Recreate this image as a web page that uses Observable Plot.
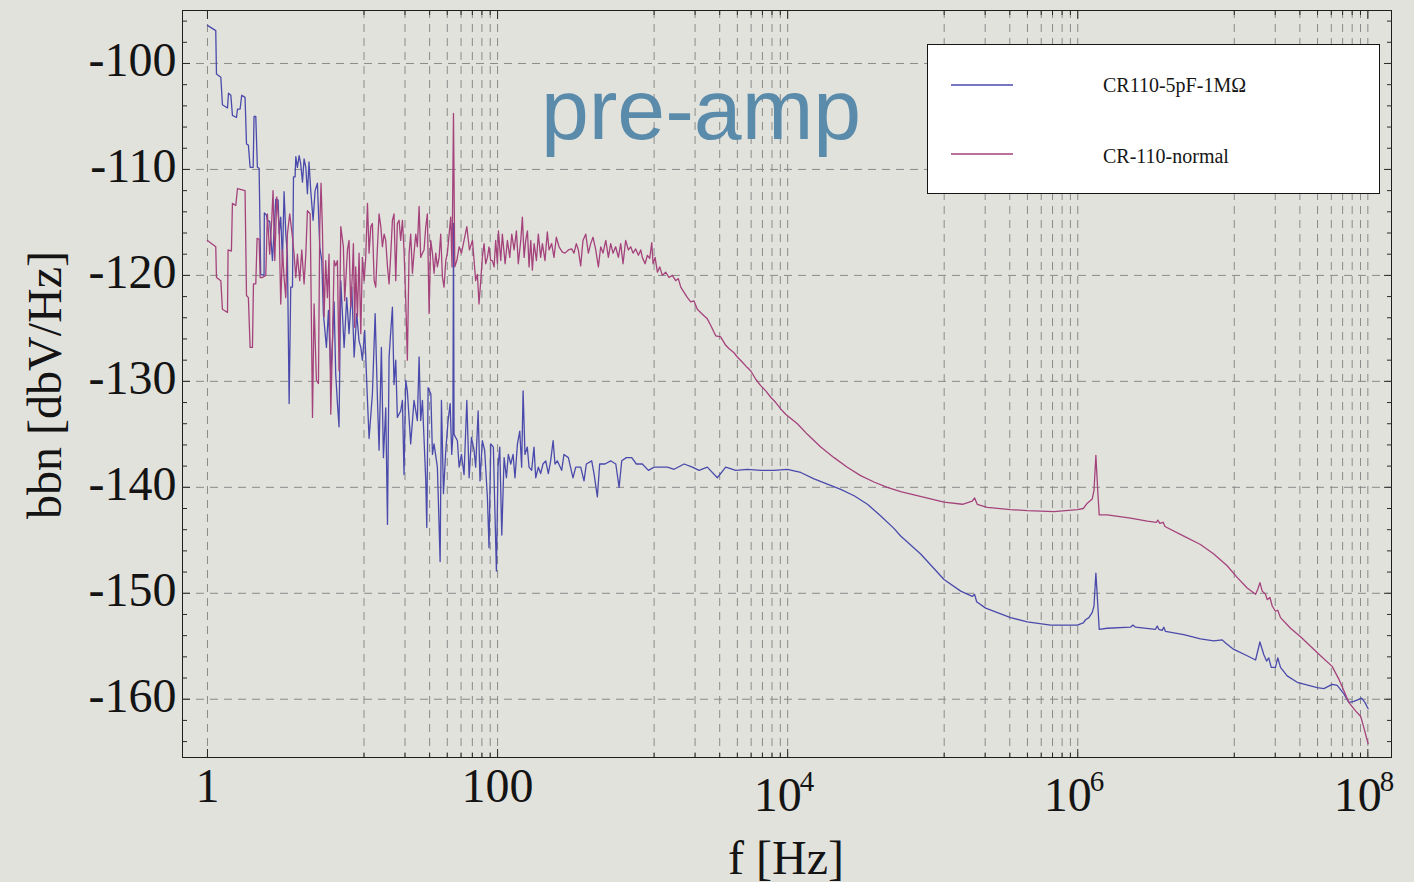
<!DOCTYPE html>
<html>
<head>
<meta charset="utf-8">
<script src="https://cdn.jsdelivr.net/npm/d3@7"></script>
<script src="https://cdn.jsdelivr.net/npm/@observablehq/plot@0.6"></script>
<style>
  html, body { margin: 0; padding: 0; background: #e2e2dc; }
  #wrap { position: relative; width: 1414px; height: 882px; overflow: hidden; }
  #legend { position: absolute; left: 927px; top: 44px; width: 453px; height: 150px; box-sizing: border-box;
            background: #ffffff; border: 1.5px solid #151515;
            font-family: "Liberation Serif", "Times New Roman", serif; font-size: 20px; color: #161616; }
  .sw { position: absolute; left: 23px; width: 62px; height: 6px; overflow: visible; }
  .lb { position: absolute; left: 175px; line-height: 20px; white-space: nowrap; }
</style>
</head>
<body>
<div id="wrap"></div>
<script>
// ---- data: [log10(f / Hz), bbn in dbV/Hz] ----
const blueReadings = [
[0,-96.4],[0.057,-96.9],[0.062,-101.0],[0.092,-101.3],[0.103,-103.9],[0.138,-104.2],[0.145,-102.8],[0.161,-103.0],[0.172,-104.9],[0.200,-105.1],[0.207,-104.3],[0.225,-104.3],[0.236,-103.0],[0.259,-103.2],[0.269,-107.6],[0.282,-107.7],[0.294,-109.8],[0.315,-109.8],[0.321,-105.0],[0.333,-105.0],[0.344,-109.8],[0.356,-109.9],[0.367,-119.9],[0.390,-120.0],[0.392,-114.1],[0.406,-114.3],[0.413,-114.8],[0.429,-114.9],
[0.448,-118.6],[0.471,-112.8],[0.487,-112.9],[0.494,-116.1],[0.505,-114.5],[0.517,-118.6],[0.528,-112.1],[0.540,-116.1],[0.551,-118.0],[0.563,-132.1],[0.574,-121.1],[0.586,-121.1],[0.593,-110.7],[0.604,-110.7],[0.609,-108.8],[0.620,-109.8],[0.632,-108.7],[0.643,-109.5],[0.655,-111.2],[0.666,-109.0],[0.678,-109.8],[0.689,-112.3],[0.700,-109.3],[0.712,-112.0],[0.728,-114.8],[0.742,-112.0],[0.758,-111.3],[0.774,-117.3],[0.788,-118.6],[0.799,-123.6],[0.820,-126.8],[0.834,-123.3],[0.850,-129.3],[0.862,-126.2],[0.873,-122.5],[0.884,-129.3],[0.896,-132.1],[0.907,-134.3],
[0.919,-120.5],[0.942,-126.8],[0.960,-122.1],[0.976,-125.5],[0.995,-121.1],[1.011,-127.7],[1.029,-123.6],[1.045,-126.2],[1.057,-126.8],[1.068,-128.0],[1.084,-125.2],[1.103,-131.8],[1.114,-135.4],[1.137,-131.2],[1.156,-123.6],[1.172,-131.8],[1.183,-136.5],[1.199,-126.8],[1.213,-137.2],[1.229,-132.5],[1.241,-143.5],[1.252,-127.7],[1.264,-125.2],[1.275,-123.0],[1.286,-130.3],[1.298,-128.0],[1.309,-133.4],[1.332,-132.8],[1.344,-131.8],[1.355,-138.8],[1.367,-129.9],[1.378,-130.9],[1.401,-135.9],[1.424,-131.8],[1.447,-133.7],[1.459,-127.7],[1.470,-133.7],[1.482,-131.8],[1.505,-139.4],[1.512,-143.8],[1.521,-130.6],[1.540,-131.2],[1.551,-136.9],[1.562,-135.9],[1.585,-138.1],[1.604,-147.0],[1.613,-131.8],[1.627,-140.6],[1.643,-136.5],[1.659,-133.7],[1.673,-132.1],[1.684,-136.9],[1.692,-135.0],[1.696,-115.1],[1.700,-135.0],[1.723,-135.6],[1.735,-138.1],[1.751,-136.9],[1.769,-138.8],[1.788,-131.8],[1.804,-139.1],[1.820,-135.3],[1.838,-136.5],[1.849,-138.1],[1.866,-132.8],[1.879,-139.4],[1.895,-135.6],[1.911,-136.5],[1.930,-141.0],[1.941,-145.7],[1.953,-135.9],[1.971,-136.2],[1.981,-141.9],[1.992,-147.9],[2.003,-138.1],
[2.015,-136.2],[2.029,-144.5],[2.045,-137.2],[2.061,-139.1],[2.074,-136.9],[2.091,-137.8],[2.107,-136.9],[2.120,-139.1],[2.137,-135.9],[2.153,-134.7],[2.166,-138.1],[2.176,-130.9],[2.189,-136.9],[2.205,-136.2],[2.217,-138.1],[2.235,-138.4],[2.251,-136.2],[2.263,-139.1],[2.281,-138.1],[2.297,-138.7],[2.313,-137.8],[2.332,-137.5],[2.350,-138.7],[2.366,-137.5],[2.383,-135.6],[2.396,-137.8],[2.412,-137.5],[2.442,-138.4],[2.458,-136.9],[2.488,-137.2],[2.520,-139.1],[2.539,-138.1],[2.573,-138.1],[2.596,-139.4],[2.612,-137.8],[2.649,-137.5],[2.665,-138.7],[2.688,-140.9],[2.704,-137.8],[2.741,-137.8],[2.780,-137.5],[2.815,-137.8],[2.838,-140.0],[2.856,-137.5],[2.888,-137.2],[2.925,-137.2],[2.957,-137.8],[2.998,-137.8],[3.040,-138.4],[3.079,-138.1],[3.125,-138.1],[3.171,-138.1],[3.217,-138.3],[3.286,-137.8],[3.343,-138.1],[3.389,-138.4],[3.446,-138.1],[3.515,-139.1],[3.573,-138.1],[3.642,-138.4],[3.722,-138.3],[3.814,-138.4],[3.906,-138.4],
[3.998,-138.3],[4.090,-138.6],[4.182,-139.2],[4.274,-139.7],[4.366,-140.2],[4.458,-140.8],[4.550,-141.6],[4.642,-142.7],[4.734,-143.9],
[4.779,-144.6],[4.917,-146.3],[5.078,-148.7],[5.193,-149.8],[5.273,-150.3],[5.289,-150.1],[5.303,-150.8],[5.365,-151.4],[5.537,-152.3],[5.652,-152.7],[5.813,-153.0],[5.997,-153.0],[6.038,-152.8],[6.054,-152.5],[6.077,-152.3],[6.100,-151.8],[6.112,-151.2],[6.125,-148.1],[6.139,-151.3],[6.148,-153.4],[6.203,-153.3],[6.364,-153.2],[6.380,-153.0],[6.398,-153.2],[6.536,-153.4],[6.548,-153.1],[6.559,-153.4],[6.582,-153.5],[6.593,-153.2],[6.605,-153.6],[6.731,-153.9],[6.846,-154.3],[6.938,-154.5],[6.996,-154.4],[7.019,-154.7],[7.076,-155.3],[7.168,-155.9],[7.226,-156.3],[7.256,-154.6],[7.283,-155.8],[7.302,-156.4],[7.317,-156.1],[7.334,-157.0],[7.363,-157.0],[7.379,-156.1],[7.398,-157.0],[7.444,-157.8],[7.513,-158.4],[7.651,-158.9],[7.697,-159.0],[7.754,-158.6],[7.789,-158.7],[7.835,-159.5],[7.869,-160.3],[7.904,-160.2],[7.957,-159.9],[7.980,-160.3],[8.002,-160.9]
];

const pinkReadings = [
[0,-116.7],[0.057,-117.3],[0.062,-120.2],[0.092,-120.5],[0.103,-123.2],[0.138,-123.5],[0.142,-117.6],[0.165,-117.7],[0.172,-113.2],[0.195,-113.4],[0.207,-111.8],[0.259,-112.0],[0.269,-121.9],[0.282,-122.1],[0.294,-126.8],[0.310,-126.8],[0.317,-120.8],[0.333,-120.8],[0.342,-116.5],[0.356,-116.6],[0.363,-120.2],[0.379,-120.2],[0.402,-120.0],[0.413,-114.2],[0.429,-118.0],[0.443,-114.8],[0.452,-112.0],[0.464,-118.6],[0.478,-112.6],[0.494,-115.4],[0.505,-122.7],[0.517,-117.6],[0.528,-120.2],[0.540,-122.1],[0.551,-116.1],[0.567,-114.2],[0.586,-116.4],[0.597,-118.0],[0.609,-120.2],[0.620,-118.0],[0.636,-120.5],[0.650,-117.6],[0.666,-120.8],[0.678,-118.0],[0.689,-113.9],[0.708,-114.2],[0.724,-133.4],[0.735,-122.7],[0.751,-129.9],[0.765,-130.2],[0.774,-115.4],[0.783,-111.3],[0.792,-115.4],[0.804,-123.9],[0.815,-118.6],[0.827,-122.1],[0.838,-118.0],[0.850,-133.1],[0.862,-126.2],[0.873,-118.6],[0.884,-119.1],[0.896,-118.6],[0.907,-129.0],
[0.919,-115.4],[0.937,-117.3],[0.946,-122.4],[0.965,-117.6],[0.976,-116.7],[0.988,-123.0],[0.999,-119.8],[1.006,-117.0],[1.015,-124.9],[1.022,-119.2],[1.034,-123.9],[1.045,-117.9],[1.057,-125.5],[1.068,-118.3],[1.080,-120.5],[1.091,-118.3],[1.103,-113.2],[1.114,-117.9],[1.126,-115.4],[1.137,-115.1],[1.149,-120.5],[1.160,-121.1],[1.172,-117.3],[1.183,-114.2],[1.195,-115.4],[1.206,-117.3],[1.218,-116.1],[1.229,-116.7],[1.241,-119.2],[1.252,-120.8],[1.264,-117.9],[1.275,-114.8],[1.286,-114.2],[1.298,-120.5],[1.309,-115.1],[1.321,-114.8],[1.332,-116.7],[1.344,-114.8],[1.355,-117.6],[1.367,-122.4],[1.378,-128.0],[1.390,-117.9],[1.401,-116.1],[1.413,-119.8],[1.424,-117.9],[1.436,-116.1],[1.447,-117.3],[1.459,-113.5],[1.470,-118.3],[1.482,-117.9],[1.493,-117.6],[1.505,-115.4],[1.516,-114.2],[1.528,-123.6],[1.539,-116.7],[1.551,-117.9],[1.562,-119.8],[1.574,-117.9],[1.585,-119.2],[1.597,-118.3],[1.608,-116.1],[1.620,-120.2],[1.631,-121.1],[1.643,-118.6],[1.654,-117.9],[1.666,-116.1],[1.677,-114.5],[1.686,-119.2],[1.696,-104.7],[1.705,-119.2],[1.719,-118.6],[1.735,-117.3],[1.751,-117.9],[1.769,-116.7],[1.788,-115.4],[1.806,-117.6],[1.827,-116.7],[1.838,-118.6],[1.849,-120.5],[1.861,-119.9],[1.872,-122.7],[1.884,-120.5],[1.895,-118.3],[1.907,-117.0],[1.918,-118.9],[1.930,-118.3],[1.941,-117.3],[1.953,-118.6],[1.964,-118.6],[1.976,-119.2],[1.987,-116.7],[1.999,-118.9],
[2.006,-115.8],[2.022,-118.6],[2.033,-116.1],[2.052,-118.9],[2.068,-116.7],[2.084,-118.3],[2.098,-116.1],[2.114,-117.6],[2.130,-115.8],[2.143,-118.9],[2.160,-116.7],[2.171,-114.5],[2.183,-118.3],[2.194,-116.7],[2.206,-115.8],[2.217,-119.2],[2.229,-116.7],[2.240,-119.5],[2.252,-117.0],[2.268,-118.6],[2.281,-116.1],[2.297,-118.3],[2.309,-117.0],[2.327,-118.6],[2.343,-115.9],[2.355,-117.6],[2.373,-117.0],[2.389,-118.3],[2.405,-116.4],[2.424,-117.3],[2.447,-117.8],[2.465,-117.9],[2.488,-117.6],[2.511,-117.5],[2.527,-117.9],[2.543,-117.0],[2.557,-117.6],[2.573,-119.1],[2.589,-116.7],[2.608,-116.1],[2.626,-117.9],[2.642,-117.0],[2.658,-116.4],[2.677,-117.6],[2.695,-119.2],[2.711,-117.3],[2.727,-117.9],[2.746,-116.7],[2.764,-118.3],[2.780,-117.0],[2.796,-117.9],[2.814,-117.3],[2.833,-118.3],[2.849,-117.0],[2.865,-118.9],[2.883,-116.7],[2.902,-117.6],[2.918,-117.3],[2.934,-117.9],[2.952,-117.5],[2.971,-118.1],[2.987,-117.6],[2.998,-118.3],[3.017,-118.9],[3.033,-118.1],[3.049,-118.4],[3.063,-116.9],[3.072,-118.9],[3.086,-118.3],[3.102,-119.7],[3.118,-119.2],[3.136,-120.0],[3.159,-119.7],[3.182,-120.2],[3.205,-120.0],[3.228,-120.5],[3.246,-120.3],[3.263,-121.1],[3.286,-121.6],[3.309,-122.1],[3.332,-122.5],[3.354,-122.4],[3.377,-123.2],[3.400,-123.5],[3.423,-123.8],[3.446,-124.1],[3.469,-124.7],[3.504,-125.7],[3.538,-125.8],[3.573,-126.6],[3.595,-126.9],[3.630,-127.3],[3.653,-127.7],[3.688,-128.2],[3.722,-128.7],[3.745,-129.0],[3.780,-129.8],[3.814,-130.4],[3.849,-130.9],[3.883,-131.5],[3.918,-132.0],[3.952,-132.6],[3.986,-133.1],
[4.067,-134.0],[4.136,-135.0],[4.228,-136.2],[4.320,-137.2],[4.411,-138.1],[4.503,-138.9],[4.595,-139.5],[4.687,-140.0],
[4.779,-140.4],[5.078,-141.4],[5.205,-141.6],[5.273,-141.3],[5.289,-141.0],[5.307,-141.6],[5.376,-141.9],[5.537,-142.1],[5.652,-142.2],[5.836,-142.3],[5.997,-142.1],[6.038,-142.0],[6.066,-141.5],[6.100,-141.1],[6.112,-140.3],[6.125,-137.0],[6.139,-140.6],[6.148,-142.6],[6.203,-142.6],[6.364,-142.9],[6.479,-143.2],[6.543,-143.3],[6.552,-143.1],[6.566,-143.4],[6.589,-143.3],[6.601,-143.7],[6.731,-144.6],[6.846,-145.4],[6.938,-146.3],[7.030,-147.4],[7.099,-148.5],[7.168,-149.5],[7.226,-150.1],[7.242,-149.6],[7.256,-149.0],[7.272,-149.8],[7.295,-150.1],[7.306,-150.6],[7.325,-150.4],[7.341,-151.2],[7.363,-151.7],[7.379,-151.6],[7.398,-152.3],[7.467,-153.3],[7.536,-154.1],[7.605,-155.0],[7.674,-155.9],[7.754,-156.9],[7.800,-158.1],[7.835,-159.2],[7.869,-160.3],[7.915,-161.1],[7.950,-161.6],[7.973,-162.7],[8.002,-164.2]
];

const seriesNames = ["CR110-5pF-1M\u03A9", "CR-110-normal"];
const seriesColors = ["#4a4aac", "#a4427c"];

// ticks (Mathematica-style: majors every 2 decades, 8 linear minors in between)
const xMajorTicks = [1, 100, 1e4, 1e6, 1e8];
const xMinorTicks = [12, 23, 34, 45, 56, 67, 78, 89,
  1200, 2300, 3400, 4500, 5600, 6700, 7800, 8900,
  120000, 230000, 340000, 450000, 560000, 670000, 780000, 890000,
  12e6, 23e6, 34e6, 45e6, 56e6, 67e6, 78e6, 89e6];
const xPlainTicks = [1, 100];
const xPlainText = ["1", "100"];
const xPowTicks = [1e4, 1e6, 1e8];
const xPowBase = ["10", "10", "10"];
const xPowExp = ["4", "6", "8"];
const yMajorTicks = [-100, -110, -120, -130, -140, -150, -160];
const yMinorTicks = [-96, -98, -102, -104, -106, -108, -112, -114, -116, -118, -122, -124, -126, -128,
  -132, -134, -136, -138, -142, -144, -146, -148, -152, -154, -156, -158, -162, -164];

const xTitle = "f [Hz]";
const yTitle = "bbn [dbV/Hz]";
const annotation = "pre-amp";

// ---- tables ----
const blue = blueReadings.map(([e, db]) => ({f: 10 ** e, db}));
const pink = pinkReadings.map(([e, db]) => ({f: 10 ** e, db}));

const serif = "Liberation Serif, Times New Roman, serif";
const ink = "#141414";
const gridStyle = {stroke: "#8a8a8a", strokeWidth: 1, strokeDasharray: "8,6"};
const tickStyle = {stroke: "#2a2a2a", tickFormat: () => "", label: null};

const chart = Plot.plot({
  width: 1414,
  height: 882,
  marginLeft: 182,
  marginRight: 23,
  marginTop: 10,
  marginBottom: 125,
  x: {type: "log", domain: [0.6726, 1.456e8], label: null, axis: null},
  y: {domain: [-165.5, -95.0], label: null, axis: null},
  style: {background: "#e2e2dc", overflow: "visible"},
  marks: [
    Plot.ruleX([...xMajorTicks, ...xMinorTicks], gridStyle),
    Plot.ruleY(yMajorTicks, gridStyle),
    Plot.line(blue, {x: "f", y: "db", stroke: seriesColors[0], strokeWidth: 1.3}),
    Plot.line(pink, {x: "f", y: "db", stroke: seriesColors[1], strokeWidth: 1.3}),
    Plot.frame({stroke: "#1e1e1e", strokeWidth: 1}),
    // inward ticks on all four sides
    Plot.axisX(xMajorTicks, {...tickStyle, anchor: "bottom", tickSize: 8, dy: -8}),
    Plot.axisX(xMinorTicks, {...tickStyle, anchor: "bottom", tickSize: 4, dy: -4}),
    Plot.axisX(xMajorTicks, {...tickStyle, anchor: "top", tickSize: 8, dy: 8}),
    Plot.axisX(xMinorTicks, {...tickStyle, anchor: "top", tickSize: 4, dy: 4}),
    Plot.axisY(yMajorTicks, {...tickStyle, anchor: "left", tickSize: 8, dx: 8}),
    Plot.axisY(yMinorTicks, {...tickStyle, anchor: "left", tickSize: 5, dx: 5}),
    Plot.axisY(yMajorTicks, {...tickStyle, anchor: "right", tickSize: 8, dx: -8}),
    Plot.axisY(yMinorTicks, {...tickStyle, anchor: "right", tickSize: 5, dx: -5}),
    // tick labels
    Plot.text(yMajorTicks, {y: d => d, text: d => `-${-d}`, frameAnchor: "left", textAnchor: "end",
      lineAnchor: "bottom", dx: -6, dy: 13, fontSize: 48, fontFamily: serif, fill: ink}),
    Plot.text(xPlainTicks, {x: d => d, text: (d, i) => xPlainText[i], frameAnchor: "bottom",
      lineAnchor: "bottom", dy: 44, fontSize: 48, fontFamily: serif, fill: ink}),
    Plot.text(xPowTicks, {x: d => d, text: (d, i) => xPowBase[i], frameAnchor: "bottom",
      lineAnchor: "bottom", dx: -10, dy: 53, fontSize: 48, fontFamily: serif, fill: ink}),
    Plot.text(xPowTicks, {x: d => d, text: (d, i) => xPowExp[i], frameAnchor: "bottom", textAnchor: "start",
      lineAnchor: "bottom", dx: 12, dy: 33, fontSize: 29, fontFamily: serif, fill: ink}),
    // axis titles
    Plot.text([xTitle], {text: d => d, frameAnchor: "bottom", textAnchor: "middle", lineAnchor: "bottom",
      dx: -1, dy: 116, fontSize: 48, fontFamily: serif, fill: ink}),
    Plot.text([yTitle], {text: d => d, frameAnchor: "left", textAnchor: "middle", lineAnchor: "bottom", rotate: -90,
      dx: -122, dy: 1, fontSize: 48, fontFamily: serif, fill: ink}),
    // annotation
    Plot.text([annotation], {text: d => d, frameAnchor: "top", textAnchor: "middle", lineAnchor: "bottom",
      dx: -86, dy: 128, fontSize: 86, fontFamily: "Liberation Sans, Arial, sans-serif", fill: "#5a8bab"})
  ]
});

const wrap = document.getElementById("wrap");
wrap.appendChild(chart);

// legend overlay (inside the plot area, does not change the SVG height)
const legend = document.createElement("div");
legend.id = "legend";
const rows = [{sw: 37, lb: 30}, {sw: 106, lb: 101}];
const svgNS = "http://www.w3.org/2000/svg";
seriesNames.forEach((name, i) => {
  const sw = document.createElementNS(svgNS, "svg");
  sw.setAttribute("class", "sw");
  sw.setAttribute("width", "62");
  sw.setAttribute("height", "6");
  sw.style.top = rows[i].sw + "px";
  const ln = document.createElementNS(svgNS, "line");
  ln.setAttribute("x1", "0"); ln.setAttribute("x2", "62");
  ln.setAttribute("y1", "3"); ln.setAttribute("y2", "3");
  ln.setAttribute("stroke", seriesColors[i]);
  ln.setAttribute("stroke-width", "1.3");
  sw.appendChild(ln);
  const lb = document.createElement("div");
  lb.className = "lb";
  lb.style.top = rows[i].lb + "px";
  lb.textContent = name;
  legend.appendChild(sw);
  legend.appendChild(lb);
});
wrap.appendChild(legend);
</script>
</body>
</html>
